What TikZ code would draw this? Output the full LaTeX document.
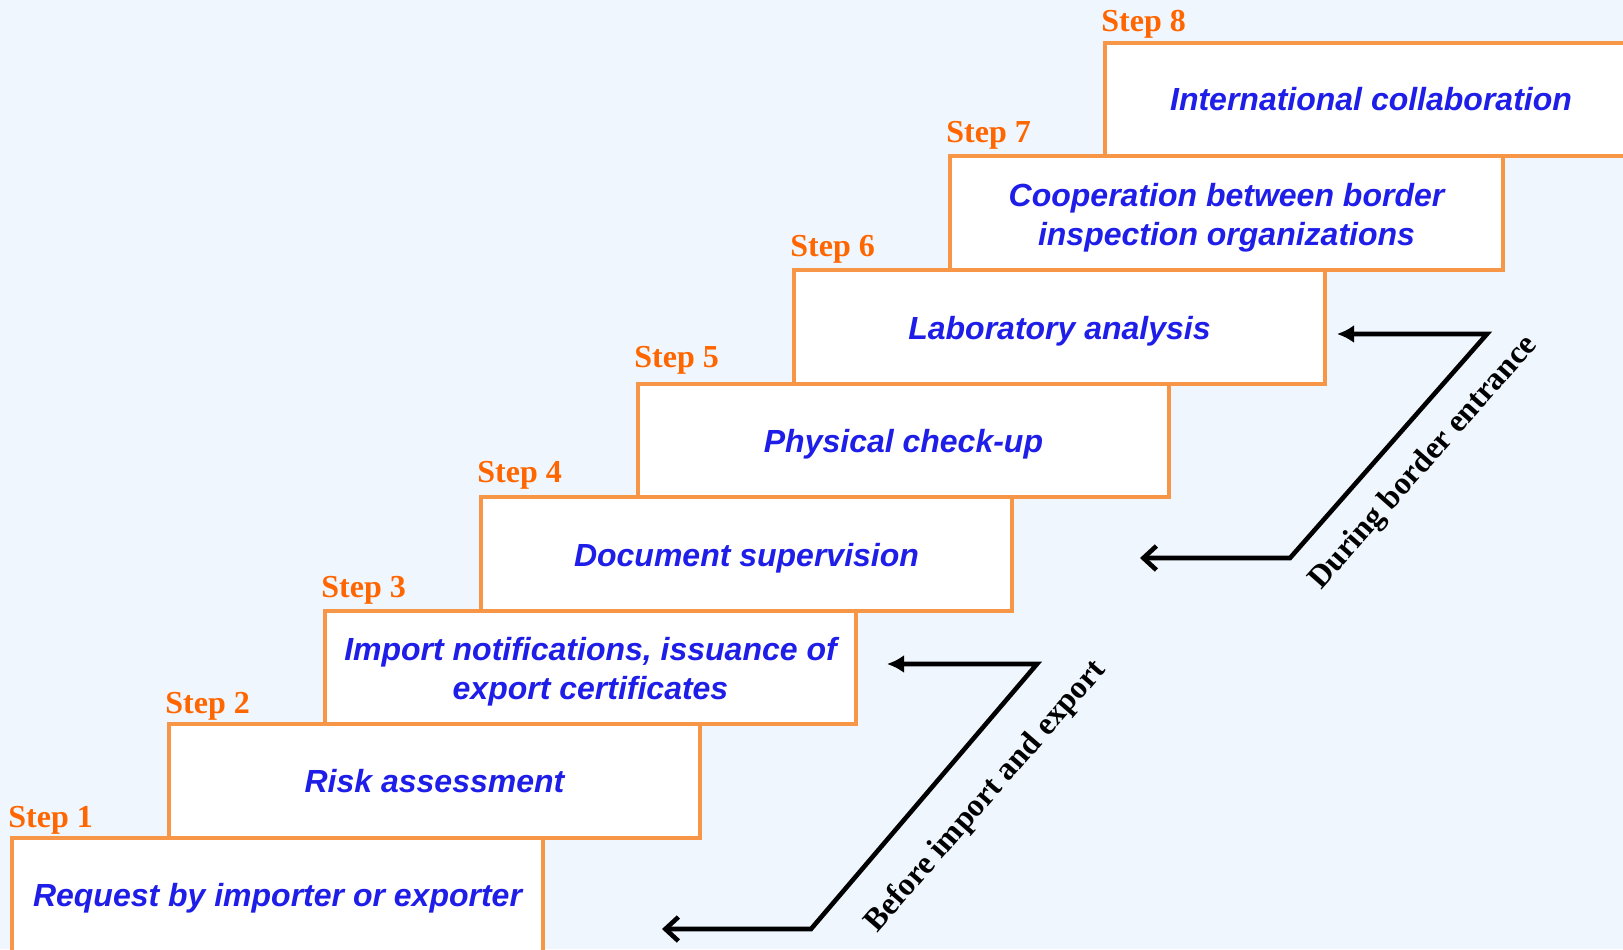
\documentclass[tikz,border=0pt]{standalone}
\usepackage{fontspec}
\setmainfont{Liberation Serif}
\newfontfamily\boxfont{Liberation Sans}
\usetikzlibrary{arrows.meta}
\definecolor{bgblue}{RGB}{239,246,253}
\definecolor{stepborder}{RGB}{247,150,70}
\definecolor{steplabel}{RGB}{255,102,0}
\definecolor{boxtext}{RGB}{30,30,232}
\begin{document}
\begin{tikzpicture}[x=0.5pt,y=-0.5pt,
  stepbox/.style={draw=stepborder, line width=2pt, fill=white, anchor=north west,
    minimum height=56.8pt, minimum width=265.5pt, inner sep=0pt},
  boxtxt/.style={inner sep=0pt, align=center,
    font=\boxfont\bfseries\itshape\fontsize{16}{19.7}\selectfont, text=boxtext},
  steplbl/.style={anchor=base west, inner sep=0pt,
    font=\bfseries\fontsize{16}{18}\selectfont, text=steplabel},
  phase/.style={font=\bfseries\fontsize{16}{18}\selectfont, inner sep=0pt},
  flow/.style={line width=2.3pt, line join=miter,
    {Straight Barb[length=6.5pt,width=12pt]}-{Latex[length=8.5pt,width=9pt]}}]
\fill[bgblue] (0,0) rectangle (1623,949);
\useasboundingbox (0,0) rectangle (1623,949);
\clip (0,0) rectangle (1623,949);

% step boxes
\node[stepbox] (s1) at (10,836) {};
\node[stepbox] (s2) at (167,722.4) {};
\node[stepbox] (s3) at (323,608.8) {};
\node[stepbox] (s4) at (479,495.2) {};
\node[stepbox] (s5) at (636,381.6) {};
\node[stepbox] (s6) at (792,268) {};
\node[stepbox, minimum width=276.5pt] (s7) at (948,154.4) {};
\node[stepbox, minimum width=266pt] (s8) at (1103,40.8) {};

% box texts
\node[boxtxt, yshift=-1.5pt] (t1) at (s1.center) {Request by importer or exporter};
\node[boxtxt] (t2) at (s2.center) {Risk assessment};
\node[boxtxt, yshift=-2pt] (t3) at (s3.center) {Import notifications, issuance of\\export certificates};
\node[boxtxt, yshift=-2pt] (t4) at (s4.center) {Document supervision};
\node[boxtxt, yshift=-2pt] (t5) at (s5.center) {Physical check-up};
\node[boxtxt, yshift=-2.3pt] (t6) at (s6.center) {Laboratory analysis};
\node[boxtxt, yshift=-2.4pt] (t7) at (s7.center) {Cooperation between border\\inspection organizations};
\node[boxtxt, yshift=0.3pt] (t8) at (s8.center) {International collaboration};

% step labels
\node[steplbl] (l1) at (8,827) {Step 1};
\node[steplbl] (l2) at (165,713.4) {Step 2};
\node[steplbl] (l3) at (321,597.5) {Step 3};
\node[steplbl] (l4) at (477,482) {Step 4};
\node[steplbl] (l5) at (634,367.5) {Step 5};
\node[steplbl] (l6) at (790,256) {Step 6};
\node[steplbl] (l7) at (946,142.4) {Step 7};
\node[steplbl] (l8) at (1101,31.8) {Step 8};

% phase connectors
\coordinate (a1) at (662,929);
\coordinate (a2) at (811,929);
\coordinate (a3) at (1037,664);
\coordinate (a4) at (887,664);
\draw[flow] (a1) -- (a2) -- (a3) -- (a4);

\coordinate (b1) at (1140,558);
\coordinate (b2) at (1290,558);
\coordinate (b3) at (1487,334);
\coordinate (b4) at (1337,334);
\draw[flow] (b1) -- (b2) -- (b3) -- (b4);

\node[phase, rotate=49] (before) at (986,797) {Before import and export};
\node[phase, rotate=48.5] (during) at (1424,463) {During border entrance};
\end{tikzpicture}
\end{document}
